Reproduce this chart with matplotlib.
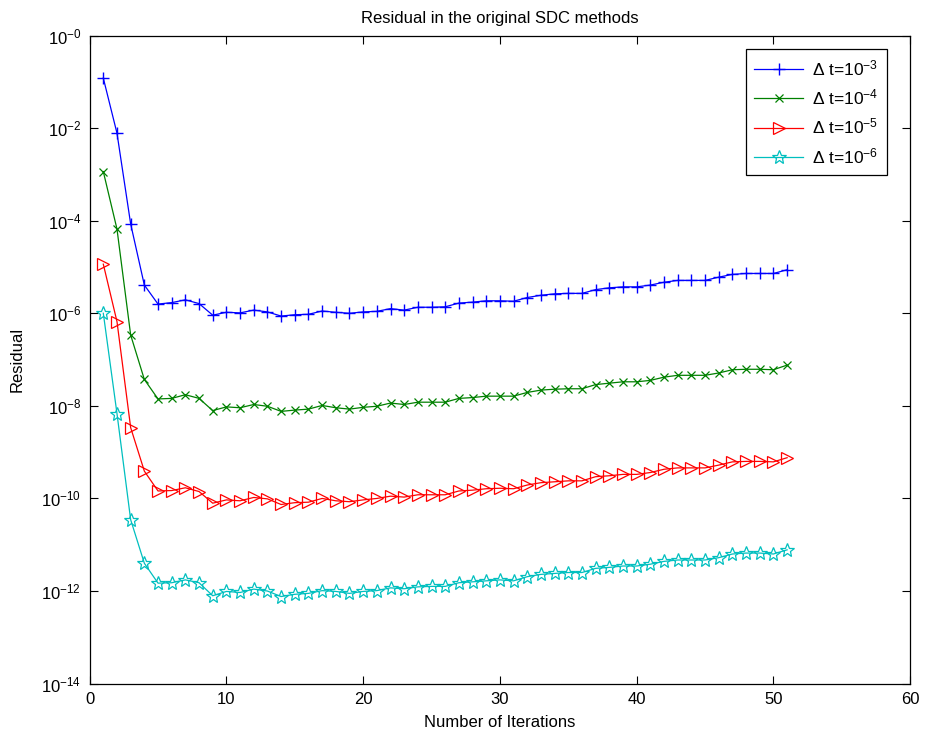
import matplotlib
matplotlib.use("Agg")
import matplotlib.pyplot as plt
from matplotlib.ticker import FixedLocator, FixedFormatter

plt.rcParams['font.family'] = ['Liberation Sans', 'DejaVu Sans']
plt.rcParams['mathtext.default'] = 'regular'

iterations = list(range(1, 52))

res_dt3 = [1.20e-1, 7.76e-3, 8.5e-5, 4.07e-6, 1.58e-6, 1.70e-6, 1.95e-6, 1.62e-6, 9.1e-7, 1.05e-6,
           1.02e-6, 1.17e-6, 1.07e-6, 8.7e-7, 9.3e-7, 9.5e-7, 1.12e-6, 1.05e-6, 1.0e-6, 1.07e-6,
           1.10e-6, 1.26e-6, 1.17e-6, 1.35e-6, 1.35e-6, 1.38e-6, 1.66e-6, 1.74e-6, 1.86e-6, 1.86e-6,
           1.82e-6, 2.19e-6, 2.45e-6, 2.63e-6, 2.69e-6, 2.69e-6, 3.24e-6, 3.55e-6, 3.72e-6, 3.72e-6,
           4.07e-6, 4.68e-6, 5.13e-6, 5.13e-6, 5.13e-6, 6.03e-6, 6.92e-6, 7.24e-6, 7.24e-6, 7.24e-6,
           8.71e-6]

res_dt4 = [1.15e-3, 6.6e-5, 3.39e-7, 3.72e-8, 1.41e-8, 1.45e-8, 1.74e-8, 1.45e-8, 7.9e-9, 9.5e-9,
           9.1e-9, 1.07e-8, 9.8e-9, 7.6e-9, 8.1e-9, 8.5e-9, 1.02e-8, 9.1e-9, 8.5e-9, 9.3e-9,
           9.8e-9, 1.15e-8, 1.07e-8, 1.20e-8, 1.20e-8, 1.20e-8, 1.45e-8, 1.51e-8, 1.62e-8, 1.62e-8,
           1.62e-8, 1.95e-8, 2.19e-8, 2.29e-8, 2.34e-8, 2.34e-8, 2.88e-8, 3.09e-8, 3.31e-8, 3.31e-8,
           3.55e-8, 4.17e-8, 4.57e-8, 4.57e-8, 4.57e-8, 5.13e-8, 6.03e-8, 6.17e-8, 6.17e-8, 6.03e-8,
           7.59e-8]

res_dt5 = [1.15e-5, 6.6e-7, 3.39e-9, 3.89e-10, 1.45e-10, 1.48e-10, 1.70e-10, 1.41e-10, 7.9e-11, 9.3e-11,
           8.9e-11, 1.05e-10, 9.8e-11, 7.4e-11, 8.1e-11, 8.3e-11, 1.0e-10, 8.9e-11, 8.5e-11, 9.3e-11,
           1.0e-10, 1.12e-10, 1.07e-10, 1.20e-10, 1.20e-10, 1.20e-10, 1.45e-10, 1.51e-10, 1.62e-10, 1.66e-10,
           1.62e-10, 1.95e-10, 2.19e-10, 2.29e-10, 2.40e-10, 2.40e-10, 2.95e-10, 3.09e-10, 3.31e-10, 3.31e-10,
           3.63e-10, 4.27e-10, 4.57e-10, 4.57e-10, 4.57e-10, 5.25e-10, 6.17e-10, 6.31e-10, 6.31e-10, 6.17e-10,
           7.59e-10]

res_dt6 = [1.0e-6, 6.8e-9, 3.47e-11, 3.98e-12, 1.48e-12, 1.51e-12, 1.74e-12, 1.51e-12, 7.9e-13, 9.8e-13,
           9.3e-13, 1.10e-12, 1.0e-12, 7.6e-13, 8.5e-13, 8.9e-13, 1.02e-12, 9.8e-13, 8.9e-13, 9.8e-13,
           1.02e-12, 1.17e-12, 1.12e-12, 1.23e-12, 1.26e-12, 1.26e-12, 1.51e-12, 1.58e-12, 1.66e-12, 1.74e-12,
           1.66e-12, 2.04e-12, 2.29e-12, 2.40e-12, 2.51e-12, 2.51e-12, 3.09e-12, 3.24e-12, 3.47e-12, 3.47e-12,
           3.80e-12, 4.37e-12, 4.68e-12, 4.68e-12, 4.68e-12, 5.25e-12, 6.31e-12, 6.61e-12, 6.61e-12, 6.31e-12,
           7.76e-12]

series_labels = ['Δ t=10$^{-3}$', 'Δ t=10$^{-4}$', 'Δ t=10$^{-5}$', 'Δ t=10$^{-6}$']

x_ticks = [0, 10, 20, 30, 40, 50, 60]
y_ticks = [1e0, 1e-2, 1e-4, 1e-6, 1e-8, 1e-10, 1e-12, 1e-14]
y_tick_labels = ['10$^{-0}$', '10$^{-2}$', '10$^{-4}$', '10$^{-6}$', '10$^{-8}$',
                 '10$^{-10}$', '10$^{-12}$', '10$^{-14}$']

fig = plt.figure(figsize=(9.25, 7.4), dpi=100)
ax = fig.add_axes([0.0969, 0.0762, 0.8871, 0.8758])

lw = 0.9
ax.plot(iterations, res_dt3, color='#0000ff', marker='+', markersize=9, markeredgewidth=1.0,
        linewidth=lw, label=series_labels[0])
ax.plot(iterations, res_dt4, color='#008000', marker='x', markersize=6, markeredgewidth=0.9,
        linewidth=lw, label=series_labels[1])
ax.plot(iterations, res_dt5, color='#ff0000', marker='>', markersize=9, markerfacecolor='none',
        markeredgewidth=0.9, linewidth=lw, label=series_labels[2])
ax.plot(iterations, res_dt6, color='#00bfbf', marker='*', markersize=10, markerfacecolor='none',
        markeredgewidth=0.9, linewidth=lw, label=series_labels[3])

ax.set_yscale('log')
ax.set_xlim(0, 60)
ax.set_ylim(1e-14, 1e0)
ax.xaxis.set_major_locator(FixedLocator(x_ticks))
ax.yaxis.set_major_locator(FixedLocator(y_ticks))
ax.yaxis.set_major_formatter(FixedFormatter(y_tick_labels))
ax.yaxis.set_minor_locator(FixedLocator([]))

ax.tick_params(axis='both', which='major', direction='in', length=6, width=0.8,
               top=True, right=True, labelsize=12, pad=6)
for sp in ax.spines.values():
    sp.set_linewidth(0.9)

ax.set_xlabel('Number of Iterations', fontsize=12, labelpad=6)
ax.set_ylabel('Residual', fontsize=12, labelpad=12)
ax.set_title('Residual in the original SDC methods', fontsize=12, pad=9)

leg = ax.legend(loc='upper right', fontsize=12.5, frameon=True, fancybox=False,
                edgecolor='black', framealpha=1, handlelength=2.8, borderpad=0.5,
                labelspacing=0.55, handletextpad=0.5, bbox_to_anchor=(0.982, 0.992))
leg.get_frame().set_linewidth(0.9)

fig.savefig('out.png', dpi=100)
